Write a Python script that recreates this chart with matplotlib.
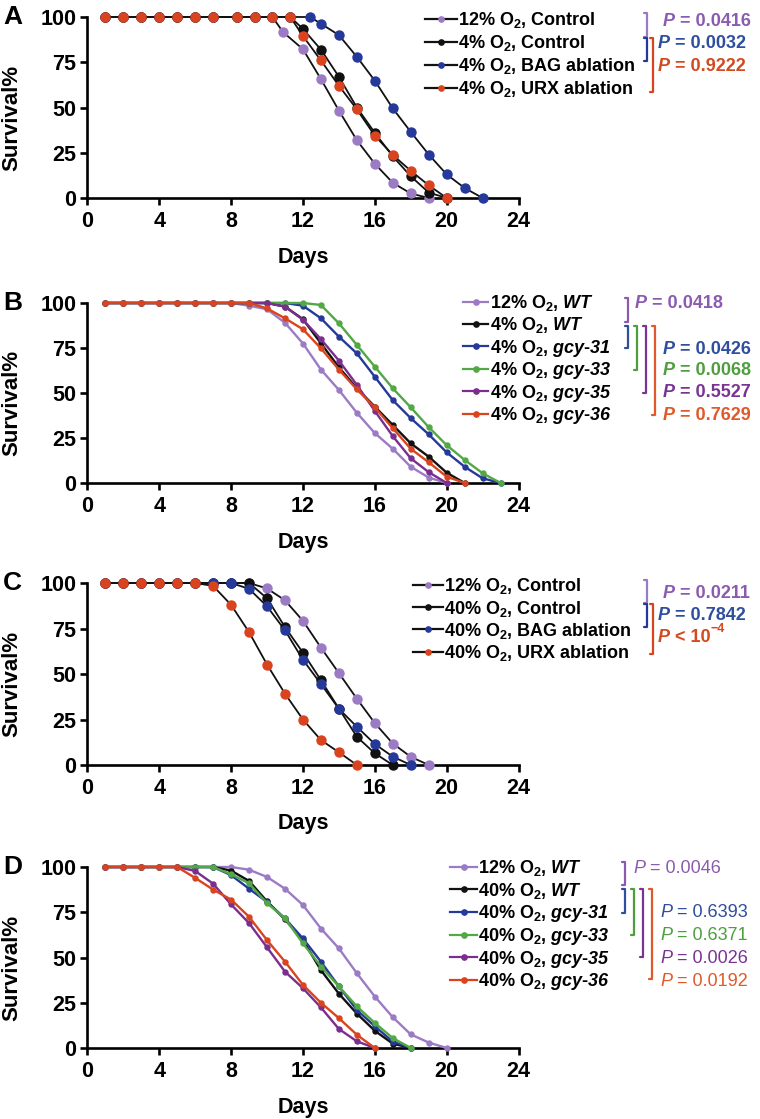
import numpy as np
import matplotlib
matplotlib.use("Agg")
import matplotlib.pyplot as plt

plt.rcParams['font.family'] = ['Liberation Sans', 'DejaVu Sans']
plt.rcParams['font.weight'] = 'bold'
plt.rcParams['mathtext.fontset'] = 'custom'
plt.rcParams['mathtext.default'] = 'regular'
plt.rcParams['mathtext.rm'] = 'Liberation Sans:bold'
plt.rcParams['mathtext.it'] = 'Liberation Sans:italic:bold'
# \mathbf is used for the italic gene names so that digits stay italic too
plt.rcParams['mathtext.bf'] = 'Liberation Sans:italic:bold'

# colours
LPURPLE = '#9b7bc4'
BLACK = '#111111'
BLUE = '#24399a'
RED = '#d9441f'
GREEN = '#52a844'
DPURPLE = '#7a2e8e'

# ---- panel A: 12% vs 4% O2, neuron ablations ----
A_PURPLE_DAYS = [1, 2, 3, 4, 5, 6, 7, 8.35, 9.35, 10.3, 10.9, 12, 13, 14, 15, 16, 17, 18, 19]
A_PURPLE = [100, 100, 100, 100, 100, 100, 100, 100, 100, 100, 91.6, 82.2, 65.7, 48.3, 31.9, 18.9, 8.4, 2.5, 0]
A_BLACK_DAYS = [1, 2, 3, 4, 5, 6, 7, 8.35, 9.35, 10.3, 11.3, 12, 13, 14, 15, 16, 17, 18, 19, 20]
A_BLACK = [100, 100, 100, 100, 100, 100, 100, 100, 100, 100, 100, 93.4, 82, 67, 50, 36, 23, 12, 3, 0]
A_BLUE_DAYS = [1, 2, 3, 4, 5, 6, 7, 8.35, 9.35, 10.3, 11.3, 12.4, 13, 14, 15, 16, 17, 18, 19, 20, 21, 22]
A_BLUE = [100, 100, 100, 100, 100, 100, 100, 100, 100, 100, 100, 100, 96.3, 90, 78, 64.8, 49.5, 36.5, 24, 13, 5.5, 0]
A_RED_DAYS = [1, 2, 3, 4, 5, 6, 7, 8.35, 9.35, 10.3, 11.3, 12, 13, 14, 15, 16, 17, 18, 19, 20]
A_RED = [100, 100, 100, 100, 100, 100, 100, 100, 100, 100, 100, 89.5, 76, 62, 49, 34.4, 23.8, 15, 7, 0]

# ---- panel B: 12% vs 4% O2, gcy mutants ----
B_DAYS = list(range(1, 24))
B_LPURPLE = [100, 100, 100, 100, 100, 100, 100, 100, 98.5, 96.5, 89, 77.5, 63, 51.7, 39, 27.7, 19, 9, 3, 0]
B_BLACK = [100, 100, 100, 100, 100, 100, 100, 100, 100, 100, 98, 91, 77.6, 64.3, 52.6, 42.4, 32.2, 22, 14.6, 5.7, 0]
B_BLUE = [100, 100, 100, 100, 100, 100, 100, 100, 100, 100, 100, 98.5, 91.5, 81.3, 72, 59, 46, 36, 27, 17, 9, 2.6, 0]
B_GREEN = [100, 100, 100, 100, 100, 100, 100, 100, 100, 100, 100, 100, 98.9, 88.7, 76.7, 64.6, 52.6, 42, 31, 21, 12.8, 5.4, 0]
B_DPURPLE = [100, 100, 100, 100, 100, 100, 100, 100, 100, 100, 98, 90.7, 79.9, 68, 54.5, 40, 26, 13.7, 6, 0]
B_RED = [100, 100, 100, 100, 100, 100, 100, 100, 100, 97, 91.5, 85.4, 74.8, 63, 52, 42, 30.4, 19, 11.5, 3.5, 0]

# ---- panel C: 12% vs 40% O2, neuron ablations ----
C_DAYS = list(range(1, 20))
C_PURPLE = [100, 100, 100, 100, 100, 100, 100, 100, 100, 97, 90.5, 79.2, 64.5, 50.5, 36.4, 23, 11.8, 4.5, 0]
C_BLACK = [100, 100, 100, 100, 100, 100, 100, 100, 100, 91.6, 75.8, 61.7, 46.6, 31, 15.5, 6.4, 0]
C_BLUE = [100, 100, 100, 100, 100, 100, 100, 100, 96.8, 87.2, 74, 57.8, 44.5, 30.9, 21, 11.5, 4.6, 0]
C_RED = [100, 100, 100, 100, 100, 100, 98.4, 88, 73, 55.2, 39.2, 25, 13.7, 7, 0]

# ---- panel D: 12% vs 40% O2, gcy mutants ----
D_DAYS = list(range(1, 21))
D_LPURPLE = [100, 100, 100, 100, 100, 100, 100, 100, 98.5, 94.5, 88, 79, 66, 55, 41.3, 28.4, 17, 7.5, 3, 0]
D_BLACK = [100, 100, 100, 100, 100, 100, 100, 98, 92.3, 81, 71, 59.6, 43, 30, 19, 9.5, 2.4, 0]
D_BLUE = [100, 100, 100, 100, 100, 100, 100, 95.5, 88, 80.7, 71.6, 60.5, 47.7, 34, 21, 12, 3.5, 0]
D_GREEN = [100, 100, 100, 100, 100, 100, 100, 96, 91, 80, 71.6, 57.8, 45, 34, 23, 13.8, 5.5, 0]
D_DPURPLE = [100, 100, 100, 100, 100, 97.8, 90.8, 79.3, 69, 55.6, 42.2, 33, 22.4, 10.5, 3.7, 0]
D_RED = [100, 100, 100, 100, 100, 94, 87.5, 82, 72.5, 59.6, 47.7, 34.9, 25, 16.5, 7.3, 0]

# legend labels
A_LABELS = [r"12% O$_2$, Control", r"4% O$_2$, Control",
            r"4% O$_2$, BAG ablation", r"4% O$_2$, URX ablation"]
B_LABELS = [r"12% O$_2$, $\mathbf{WT}$", r"4% O$_2$, $\mathbf{WT}$",
            r"4% O$_2$, $\mathbf{gcy}$-$\mathbf{31}$", r"4% O$_2$, $\mathbf{gcy}$-$\mathbf{33}$",
            r"4% O$_2$, $\mathbf{gcy}$-$\mathbf{35}$", r"4% O$_2$, $\mathbf{gcy}$-$\mathbf{36}$"]
C_LABELS = [r"12% O$_2$, Control", r"40% O$_2$, Control",
            r"40% O$_2$, BAG ablation", r"40% O$_2$, URX ablation"]
D_LABELS = [r"12% O$_2$, $\mathbf{WT}$", r"40% O$_2$, $\mathbf{WT}$",
            r"40% O$_2$, $\mathbf{gcy}$-$\mathbf{31}$", r"40% O$_2$, $\mathbf{gcy}$-$\mathbf{33}$",
            r"40% O$_2$, $\mathbf{gcy}$-$\mathbf{35}$", r"40% O$_2$, $\mathbf{gcy}$-$\mathbf{36}$"]

A_PVALS = [" = 0.0416", " = 0.0032", " = 0.9222"]
B_PVALS = [" = 0.0418", " = 0.0426", " = 0.0068", " = 0.5527", " = 0.7629"]
C_PVALS = [" = 0.0211", " = 0.7842", " < 10"]
D_PVALS = [" = 0.0046", " = 0.6393", " = 0.6371", " = 0.0026", " = 0.0192"]

W, H = 760, 1119
X0, X1 = 87.3, 518.6
FS_TICK = 15.5
FS_LEG = 13

fig = plt.figure(figsize=(W / 100, H / 100), dpi=100)


def add_panel(top, bottom, letter):
    ax = fig.add_axes([X0 / W, 1 - bottom / H, (X1 - X0) / W, (bottom - top) / H])
    ax.set_xlim(0, 24)
    ax.set_ylim(0, 100)
    ax.set_xticks(range(0, 25, 4))
    ax.set_yticks([0, 25, 50, 75, 100])
    for s in ['top', 'right']:
        ax.spines[s].set_visible(False)
    for s in ['left', 'bottom']:
        ax.spines[s].set_linewidth(1.9)
    ax.tick_params(direction='out', length=5, width=1.9, labelsize=FS_TICK)
    ax.tick_params(axis='x', pad=4.5)
    ax.tick_params(axis='y', pad=3)
    hpx = bottom - top
    ax.set_xlabel('Days', fontsize=FS_TICK, fontweight='bold', va='center')
    ax.xaxis.set_label_coords(0.5, -59 / hpx)
    ax.set_ylabel('Survival%', fontsize=16, fontweight='bold', va='center', ha='center')
    ax.yaxis.set_label_coords(-75 / (X1 - X0), 0.445)
    ax.patch.set_alpha(0)
    ov.text(3, top, letter, fontsize=19, fontweight='bold', va='center', ha='left')
    return ax


def big_dots(ax, days, vals, c):
    ax.plot(days[:len(vals)], vals, color=BLACK, lw=1.3, marker='o', ms=7.5, mfc=c,
            mec=c, mew=0, clip_on=False, zorder=3)


def small_dots(ax, days, vals, c):
    ax.plot(days[:len(vals)], vals, color=c, lw=1.7, marker='o', ms=4.6, mfc=c,
            mec=c, mew=0, clip_on=False, zorder=3)


def legend(labels, colors, xl0, xl1, y0, dy, black_lines):
    for i, (lab, c) in enumerate(zip(labels, colors)):
        y = y0 + i * dy
        ov.plot([xl0, xl1], [y, y], color=BLACK if black_lines else c, lw=1.6)
        ov.plot([(xl0 + xl1) / 2], [y], 'o', color=c, ms=3.8)
        ov.text(xl1 + 1.5, y + 6.5, lab, fontsize=FS_LEG, fontweight='bold',
                va='baseline', ha='left')


def bracket(x, y0, y1, c):
    ov.plot([x - 3, x, x, x - 3], [y0, y0, y1, y1], color=c, lw=1.6,
            solid_joinstyle='round', solid_capstyle='round')


def pval(x, y, rest, c, weight='bold', sup=None):
    t = ov.text(x, y + 6.5, 'P', style='italic', fontweight=weight, color=c,
                fontsize=FS_LEG, va='baseline', ha='left')
    r = ov.annotate(rest, xy=(1, 0), xycoords=t, va='bottom', ha='left',
                    color=c, fontsize=FS_LEG, fontweight=weight)
    if sup:
        ov.annotate(sup, xy=(1, 0.62), xycoords=r, va='bottom', ha='left',
                    color=c, fontsize=9, fontweight=weight)


ov = fig.add_axes([0, 0, 1, 1])
ov.set_xlim(0, W)
ov.set_ylim(H, 0)
ov.axis('off')

# panel A
ax = add_panel(17, 198, 'A')
big_dots(ax, A_PURPLE_DAYS, A_PURPLE, LPURPLE)
big_dots(ax, A_BLACK_DAYS, A_BLACK, BLACK)
big_dots(ax, A_BLUE_DAYS, A_BLUE, BLUE)
big_dots(ax, A_RED_DAYS, A_RED, RED)
legend(A_LABELS, [LPURPLE, BLACK, BLUE, RED], 425, 457, 18.5, 23, True)
bracket(647, 13, 37, LPURPLE)
bracket(647, 38, 61, BLUE)
bracket(653, 38, 92, RED)
pval(663, 19.5, A_PVALS[0], '#8a5bb0')
pval(658, 42, A_PVALS[1], '#2e4e9e')
pval(658, 64.5, A_PVALS[2], '#d24a1f')

# panel B
ax = add_panel(303, 483, 'B')
for vals, c in [(B_LPURPLE, LPURPLE), (B_BLACK, BLACK), (B_BLUE, BLUE),
                (B_GREEN, GREEN), (B_DPURPLE, DPURPLE), (B_RED, RED)]:
    small_dots(ax, B_DAYS, vals, c)
legend(B_LABELS, [LPURPLE, BLACK, BLUE, GREEN, DPURPLE, RED], 463, 488, 301.5, 22.4, False)
bracket(628, 298, 322, '#8a5bb0')
bracket(628, 326, 348, '#2e4e9e')
bracket(637, 326, 370, '#4e9e3e')
bracket(646, 326, 393, '#7b3393')
bracket(655, 326, 415, '#e0592a')
pval(635, 302, B_PVALS[0], '#8a5bb0')
pval(663, 347, B_PVALS[1], '#2e4e9e')
pval(663, 368.5, B_PVALS[2], '#4e9e3e')
pval(663, 390.5, B_PVALS[3], '#7b3393')
pval(663, 413, B_PVALS[4], '#e0592a')

# panel C
ax = add_panel(583, 765, 'C')
big_dots(ax, C_DAYS, C_PURPLE, LPURPLE)
big_dots(ax, C_DAYS, C_BLACK, BLACK)
big_dots(ax, C_DAYS, C_BLUE, BLUE)
big_dots(ax, C_DAYS, C_RED, RED)
legend(C_LABELS, [LPURPLE, BLACK, BLUE, RED], 413, 443, 585, 22.2, True)
bracket(647, 580, 603, LPURPLE)
bracket(647, 604, 627, BLUE)
bracket(653, 604, 654, RED)
pval(663, 591.5, C_PVALS[0], '#8a5bb0')
pval(658, 613, C_PVALS[1], '#2e4e9e')
pval(658, 635, C_PVALS[2], '#d24a1f', sup='\u22124')

# panel D
ax = add_panel(867, 1048, 'D')
for vals, c in [(D_LPURPLE, LPURPLE), (D_BLACK, BLACK), (D_BLUE, BLUE),
                (D_GREEN, GREEN), (D_DPURPLE, DPURPLE), (D_RED, RED)]:
    small_dots(ax, D_DAYS, vals, c)
legend(D_LABELS, [LPURPLE, BLACK, BLUE, GREEN, DPURPLE, RED], 450, 477, 866.5, 22.7, False)
bracket(625, 862, 885, '#8a5bb0')
bracket(625, 889, 913, '#2e4e9e')
bracket(634, 889, 935, '#4e9e3e')
bracket(643, 889, 957, '#7b3393')
bracket(652, 889, 979, '#e0592a')
pval(633, 866.5, D_PVALS[0], '#8a5bb0', weight='normal')
pval(660, 910.5, D_PVALS[1], '#2e4e9e', weight='normal')
pval(660, 933.5, D_PVALS[2], '#4e9e3e', weight='normal')
pval(660, 956.5, D_PVALS[3], '#7b3393', weight='normal')
pval(660, 980, D_PVALS[4], '#e0592a', weight='normal')

fig.savefig('out.png', dpi=100)
